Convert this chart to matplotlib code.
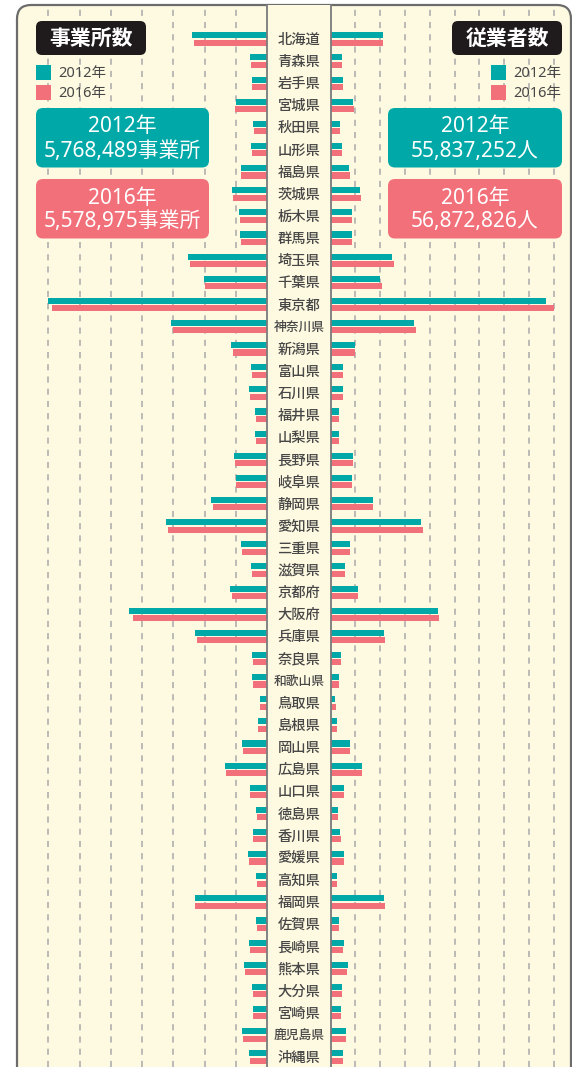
import matplotlib
matplotlib.use("Agg")
import matplotlib.pyplot as plt
from matplotlib.patches import FancyBboxPatch, Rectangle
import numpy as np

plt.rcParams['font.family'] = ['Noto Sans CJK JP', 'DejaVu Sans']
NUMFONT = ['Noto Sans', 'Noto Sans CJK JP']

# prefectures, top to bottom
prefs = ['北海道', '青森県', '岩手県', '宮城県', '秋田県', '山形県', '福島県', '茨城県', '栃木県', '群馬県',
         '埼玉県', '千葉県', '東京都', '神奈川県', '新潟県', '富山県', '石川県', '福井県', '山梨県', '長野県',
         '岐阜県', '静岡県', '愛知県', '三重県', '滋賀県', '京都府', '大阪府', '兵庫県', '奈良県', '和歌山県',
         '鳥取県', '島根県', '岡山県', '広島県', '山口県', '徳島県', '香川県', '愛媛県', '高知県', '福岡県',
         '佐賀県', '長崎県', '熊本県', '大分県', '宮崎県', '鹿児島県', '沖縄県']

# establishments (thousands)
est_2012 = [242, 55, 49, 100, 45, 51, 85, 114, 89, 87,
            252, 201, 701, 308, 115, 51, 58, 38, 38, 106,
            101, 181, 323, 84, 52, 119, 443, 232, 48, 50,
            22, 31, 80, 134, 55, 35, 46, 61, 35, 232,
            35, 58, 74, 49, 47, 80, 58]
est_2016 = [234, 53, 48, 102, 42, 49, 83, 111, 87, 85,
            246, 198, 687, 302, 110, 48, 55, 36, 35, 102,
            99, 173, 316, 82, 50, 114, 428, 226, 47, 47,
            22, 29, 77, 131, 54, 33, 45, 58, 33, 232,
            34, 56, 70, 47, 45, 78, 55]

# employees (thousands)
emp_2012 = [2130, 476, 492, 919, 395, 464, 758, 1190, 855, 855,
            2468, 2008, 8673, 3375, 1000, 492, 516, 355, 355, 907,
            867, 1726, 3637, 786, 573, 1097, 4323, 2157, 411, 355,
            194, 274, 786, 1270, 556, 290, 395, 556, 250, 2169,
            331, 532, 694, 476, 435, 637, 504]
emp_2016 = [2135, 476, 504, 960, 383, 452, 786, 1218, 855, 879,
            2548, 2089, 9012, 3448, 988, 492, 516, 355, 343, 919,
            867, 1702, 3742, 786, 585, 1121, 4387, 2198, 423, 355,
            210, 274, 798, 1282, 556, 290, 411, 556, 250, 2210,
            343, 516, 665, 464, 435, 637, 516]

years = ['2012年', '2016年']
est_total = ['5,768,489', '5,578,975']
emp_total = ['55,837,252', '56,872,826']

TEAL = '#00a9a8'
PINK = '#f2707a'
CREAM = '#fefae1'
BORDER = '#6c6c6c'
GRID = '#a9a9a9'
TXT = '#474747'

W, H = 572, 1067
fig = plt.figure(figsize=(W / 100, H / 100), dpi=100)
fig.patch.set_facecolor('white')


def px_axes(x0, y0, x1, y1):
    return fig.add_axes([x0 / W, 1 - y1 / H, (x1 - x0) / W, (y1 - y0) / H])


# background panel
bg = px_axes(0, 0, W, H)
bg.set_xlim(0, W)
bg.set_ylim(H, 0)
bg.axis('off')
bg.add_patch(FancyBboxPatch((17, 5), 554, 1100, boxstyle='round,pad=0,rounding_size=14',
                            fc=CREAM, ec=BORDER, lw=1.6))

rows = np.arange(len(prefs))
row0, step = 39.0, 22.13
ylim = ((H - row0) / step, (5 - row0) / step)
off, bh = 0.167, 0.275

# left: establishments
axl = px_axes(17, 5, 267.3, H)
axl.barh(rows - off, est_2012, height=bh, color=TEAL, zorder=3)
axl.barh(rows + off, est_2016, height=bh, color=PINK, zorder=3)
axl.set_xlim(800, 0)
axl.set_xticks(np.arange(100, 800, 100))

# right: employees
axr = px_axes(330.5, 5, W, H)
axr.barh(rows - off, emp_2012, height=bh, color=TEAL, zorder=3)
axr.barh(rows + off, emp_2016, height=bh, color=PINK, zorder=3)
axr.set_xlim(0, 241.5 / 0.0248)
axr.set_xticks(np.arange(1000, 10000, 1000))

for ax in (axl, axr):
    ax.set_ylim(*ylim)
    ax.patch.set_alpha(0)
    ax.grid(axis='x', color=GRID, linestyle=(0, (4, 4)), lw=1.1, zorder=1)
    ax.tick_params(length=0, labelbottom=False, labelleft=False)
    for s in ax.spines.values():
        s.set_visible(False)

# middle column with names
axm = px_axes(267.3, 5, 330.5, H)
axm.set_xlim(0, 1)
axm.set_ylim(*ylim)
axm.set_facecolor(CREAM)
axm.set_xticks([])
axm.set_yticks([])
axm.spines['top'].set_visible(False)
axm.spines['bottom'].set_visible(False)
for s in ('left', 'right'):
    axm.spines[s].set_color('#7a7a7a')
    axm.spines[s].set_linewidth(1.3)
for i, name in enumerate(prefs):
    fs = 10.3 if len(name) <= 3 else 9.2
    axm.text(0.5, i + 0.04, name, ha='center', va='center', fontsize=fs,
             color=TXT, fontweight='medium')

# overlay: titles, legends, totals
ov = px_axes(0, 0, W, H)
ov.set_xlim(0, W)
ov.set_ylim(H, 0)
ov.axis('off')

for x0, title, totals, unit in ((36, '事業所数', est_total, '事業所'), (388, '従業者数', emp_total, '人')):
    tx = 36 if x0 == 36 else 452
    ov.add_patch(FancyBboxPatch((tx, 21), 110, 34, boxstyle='round,pad=0,rounding_size=6',
                                fc='#1f1b1c', ec='none'))
    ov.text(tx + 55, 38.5, title, color='white', fontsize=15, fontweight='bold',
            ha='center', va='center')
    lx = 36 if x0 == 36 else 491
    for k, (yr, col) in enumerate(zip(years, (TEAL, PINK))):
        ov.add_patch(Rectangle((lx, 65 + 20 * k), 15, 15, fc=col, ec='none'))
        ov.text(lx + 22, 73 + 20 * k, yr, color=TXT, fontsize=10.5, ha='left', va='center',
                family=NUMFONT)
        by = 108 + 71 * k
        bw = 173 if x0 == 36 else 174
        ov.add_patch(FancyBboxPatch((x0, by), bw, 59.5, boxstyle='round,pad=0,rounding_size=7',
                                    fc=col, ec='none'))
        ov.text(x0 + bw / 2, by + 19, yr, color='white', fontsize=15, ha='center', va='center',
                family=NUMFONT)
        ov.text(x0 + bw / 2, by + 43, totals[k] + unit, color='white', fontsize=15,
                ha='center', va='center', family=NUMFONT)

fig.savefig('out.png', dpi=100, facecolor='white')
